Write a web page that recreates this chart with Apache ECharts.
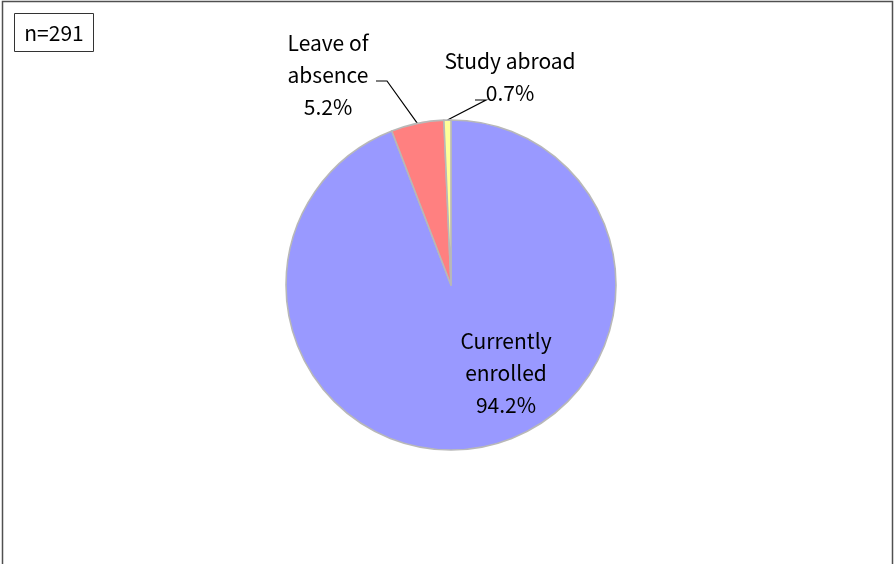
<!DOCTYPE html>
<html>
<head>
<meta charset="utf-8">
<script src="https://cdn.jsdelivr.net/npm/echarts@6/dist/echarts.min.js"></script>
<style>
html,body{margin:0;padding:0;background:#fff;}
#chart{width:894px;height:564px;}
</style>
</head>
<body>
<div id="chart"></div>
<script>
const categories = ['Currently\nenrolled', 'Leave of\nabsence', 'Study abroad'];
const counts = [274, 15, 2];
const colors = ['#9999FF', '#FF8080', '#FFFF99'];
const sampleLabel = 'n=291';

const FONT = 'Noto Sans CJK JP';
const cx = 451, cy = 285, R = 165;
const total = counts.reduce((a, b) => a + b, 0);

// label anchor positions (label placement only)
const labelPos = [
  { x: 506, y: 373 },
  { x: 328, y: 75 },
  { x: 510, y: 77 }
];
const bendPts = [null, [[387, 81], [376, 81]], [[486, 100], [475, 100]]];

function edgePoint(i) {
  let before = 0;
  for (let k = 0; k < i; k++) before += counts[k];
  const mid = (before + counts[i] / 2) / total * 2 * Math.PI;
  return [cx + R * Math.sin(mid), cy - R * Math.cos(mid)];
}

const chart = echarts.init(document.getElementById('chart'));
chart.setOption({
  animation: false,
  backgroundColor: '#fff',
  graphic: [
    { type: 'rect', shape: { x: 2.5, y: 1.5, width: 890, height: 620 },
      style: { fill: 'none', stroke: '#505050', lineWidth: 1.5 }, silent: true },
    { type: 'rect', shape: { x: 14.5, y: 13.5, width: 79, height: 38 },
      style: { fill: '#fff', stroke: '#333', lineWidth: 1 } },
    { type: 'text', x: 54, y: 33,
      style: { text: sampleLabel, fontFamily: FONT, fontSize: 21, fill: '#000', align: 'center', verticalAlign: 'middle' } }
  ],
  series: [{
    type: 'pie',
    center: [cx, cy],
    radius: R,
    startAngle: 90,
    clockwise: true,
    itemStyle: { borderColor: '#B8B8B8', borderWidth: 1.6 },
    label: {
      show: true,
      position: 'outside',
      formatter: p => p.name + '\n' + (p.value / total * 100).toFixed(1) + '%',
      fontFamily: FONT,
      fontSize: 21,
      lineHeight: 32,
      color: '#000',
      align: 'center'
    },
    labelLine: { show: true, lineStyle: { color: '#000', width: 1.2 } },
    labelLayout: function (params) {
      const i = params.dataIndex;
      const out = { x: labelPos[i].x, y: labelPos[i].y, align: 'center', verticalAlign: 'middle' };
      if (bendPts[i]) {
        out.labelLinePoints = [edgePoint(i), bendPts[i][0], bendPts[i][1]];
      }
      return out;
    },
    data: categories.map((c, i) => ({
      name: c,
      value: counts[i],
      itemStyle: { color: colors[i] },
      labelLine: { show: i !== 0 }
    }))
  }]
});
</script>
</body>
</html>
